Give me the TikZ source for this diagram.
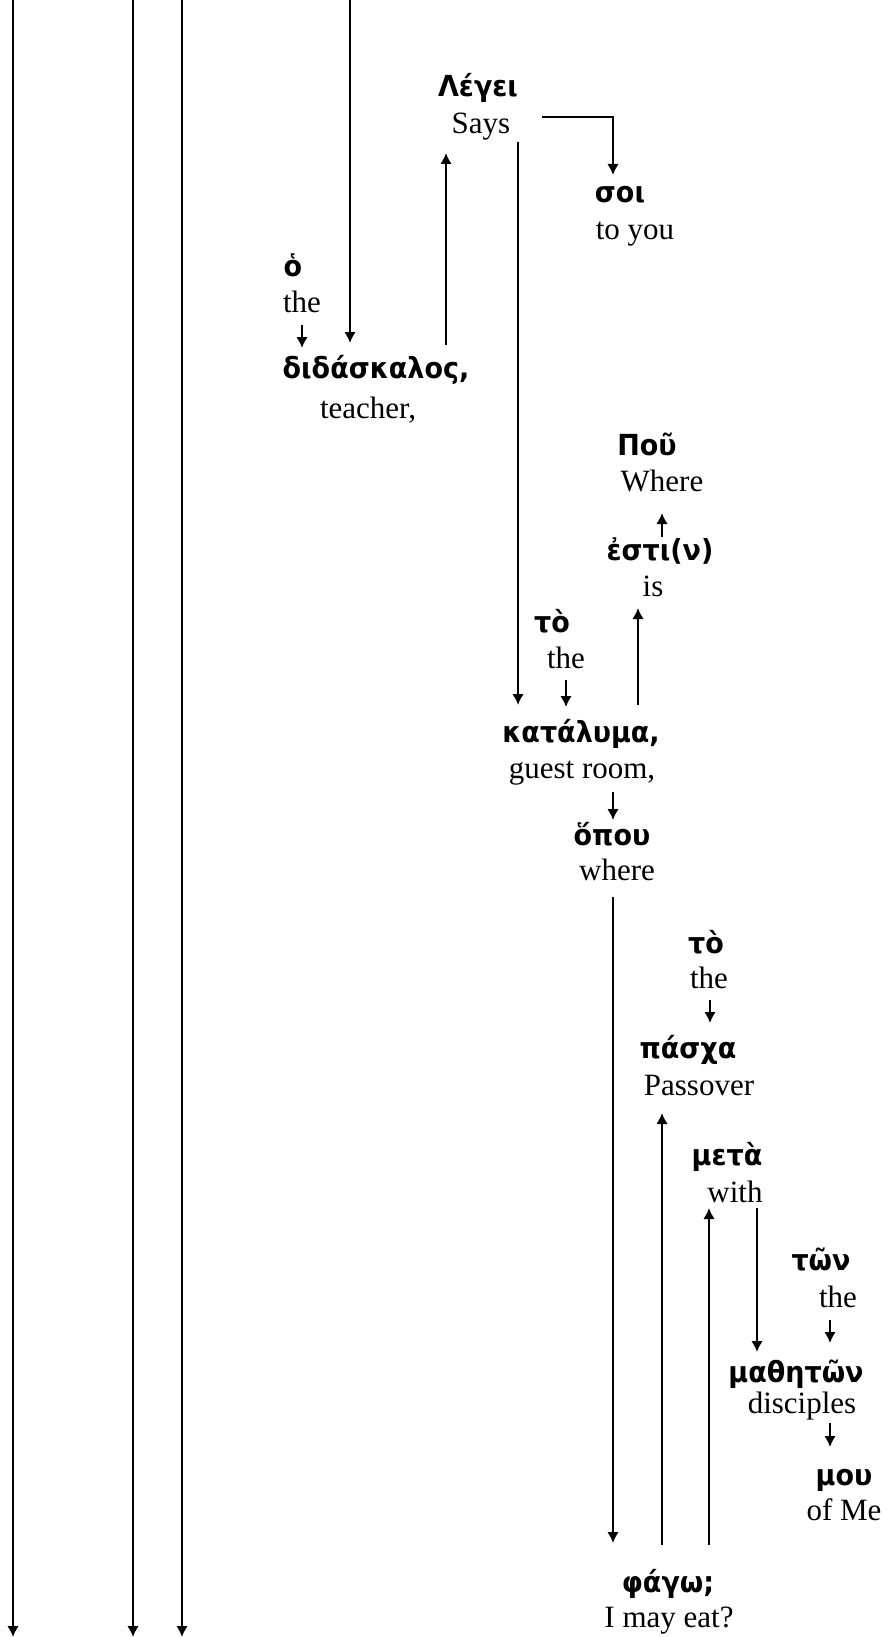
\documentclass[tikz,border=0pt]{standalone}
\usepackage{fontspec}
\setmainfont{Liberation Serif}
\newfontfamily\grk[FakeStretch=0.93]{DejaVu Sans}
\usetikzlibrary{arrows.meta}
\begin{document}
\begin{tikzpicture}[x=0.5pt,y=-0.5pt,
  gw/.style={font=\grk\bfseries\fontsize{14.5}{16}\selectfont, anchor=base, inner sep=0pt},
  ew/.style={font=\fontsize{15.5}{18}\selectfont, anchor=base, inner sep=0pt},
  conn/.style={line width=1pt, -{Latex[length=5.5pt,width=5.8pt]}}]
\path[use as bounding box] (0,0) rectangle (886,1637);
% words
\node[gw] (legei) at (478,97) {Λέγει};
\node[ew] (legeiE) at (481,134) {Says};
\node[gw] (soi) at (620,203) {σοι};
\node[ew] (soiE) at (635,240) {to you};
\node[gw] (ho) at (293,277) {ὁ};
\node[ew] (hoE) at (302,312) {the};
\node[gw] (didask) at (376,378) {διδάσκαλος,};
\node[ew] (didaskE) at (368,418) {teacher,};
\node[gw] (pou) at (647,455) {Ποῦ};
\node[ew] (pouE) at (662,491) {Where};
\node[gw] (esti) at (660,560) {ἐστι(ν)};
\node[ew] (estiE) at (653,596) {is};
\node[gw] (to1) at (552,632) {τὸ};
\node[ew] (to1E) at (566,668) {the};
\node[gw] (kat) at (581,742) {κατάλυμα,};
\node[ew] (katE) at (582,778) {guest room,};
\node[gw] (hopou) at (612,845) {ὅπου};
\node[ew] (hopouE) at (617,880) {where};
\node[gw] (to2) at (706,953) {τὸ};
\node[ew] (to2E) at (709,988) {the};
\node[gw] (pascha) at (688,1058) {πάσχα};
\node[ew] (paschaE) at (699,1095) {Passover};
\node[gw] (meta) at (727,1165) {μετὰ};
\node[ew] (metaE) at (735,1202) {with};
\node[gw] (ton) at (821,1270) {τῶν};
\node[ew] (tonE) at (838,1307) {the};
\node[gw] (math) at (796,1382) {μαθητῶν};
\node[ew] (mathE) at (802,1413) {disciples};
\node[gw] (mou) at (844,1485) {μου};
\node[ew] (mouE) at (844,1520) {of Me};
\node[gw] (phago) at (668,1592) {φάγω;};
\node[ew] (phagoE) at (669,1627) {I may eat?};
% connector ends
\coordinate (t1) at (13,0);   \coordinate (b1) at (13,1637);
\coordinate (t2) at (133,0);  \coordinate (b2) at (133,1637);
\coordinate (t3) at (182,0);  \coordinate (b3) at (182,1637);
\coordinate (t4) at (350,0);  \coordinate (b4) at (350,343);
\coordinate (hoS) at (302,325); \coordinate (hoT) at (302,348);
\coordinate (didS) at (446,345); \coordinate (legT) at (446,153);
\coordinate (saysS) at (542,117); \coordinate (soiT) at (613,175);
\coordinate (saysD) at (518,142); \coordinate (katT1) at (518,705);
\coordinate (to1S) at (566,680); \coordinate (katT2) at (566,707);
\coordinate (katS) at (638,705); \coordinate (isT) at (638,608);
\coordinate (estiS) at (662,537); \coordinate (pouT) at (662,513);
\coordinate (grS) at (613,792); \coordinate (hopT) at (613,820);
\coordinate (whS) at (613,897); \coordinate (phT) at (613,1543);
\coordinate (to2S) at (710,1000); \coordinate (pasT) at (710,1023);
\coordinate (phS1) at (662,1545); \coordinate (passT) at (662,1113);
\coordinate (phS2) at (709,1545); \coordinate (withT) at (709,1208);
\coordinate (withS) at (757,1208); \coordinate (mathT) at (757,1352);
\coordinate (tonS) at (830,1320); \coordinate (mathT2) at (830,1343);
\coordinate (discS) at (830,1423); \coordinate (mouT) at (830,1447);
% connectors
\draw[conn] (t1) -- (b1);
\draw[conn] (t2) -- (b2);
\draw[conn] (t3) -- (b3);
\draw[conn] (t4) -- (b4);
\draw[conn] (hoS) -- (hoT);
\draw[conn] (didS) -- (legT);
\draw[conn] (saysS) -| (soiT);
\draw[conn] (saysD) -- (katT1);
\draw[conn] (to1S) -- (katT2);
\draw[conn] (katS) -- (isT);
\draw[conn] (estiS) -- (pouT);
\draw[conn] (grS) -- (hopT);
\draw[conn] (whS) -- (phT);
\draw[conn] (to2S) -- (pasT);
\draw[conn] (phS1) -- (passT);
\draw[conn] (phS2) -- (withT);
\draw[conn] (withS) -- (mathT);
\draw[conn] (tonS) -- (mathT2);
\draw[conn] (discS) -- (mouT);
\end{tikzpicture}
\end{document}
